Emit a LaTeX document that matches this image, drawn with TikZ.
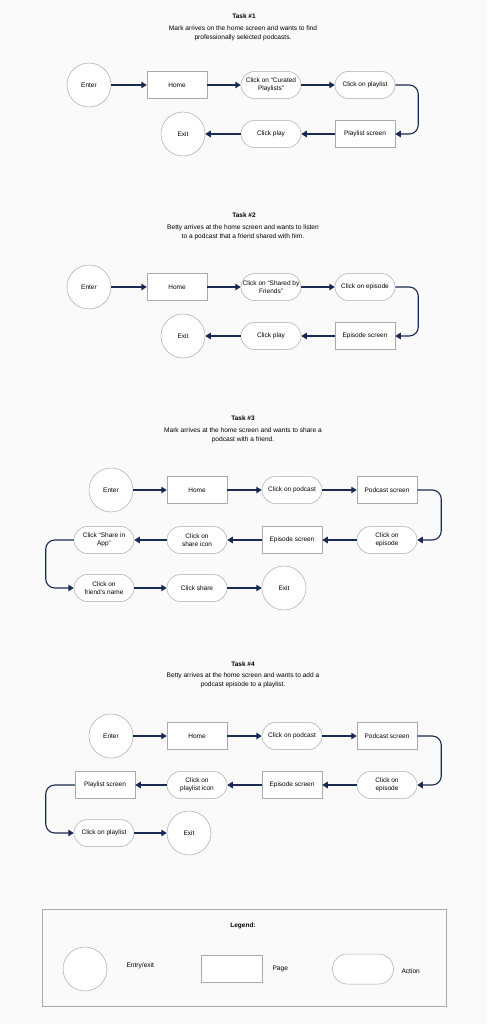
\documentclass[tikz,border=0pt]{standalone}
\usepackage{fontspec}
\setmainfont{Liberation Sans}
\usepackage{xcolor}
\usepackage{tikz}
\usetikzlibrary{arrows.meta}
\definecolor{navy}{HTML}{1B2A52}
\definecolor{edge}{HTML}{AAAAAA}
\definecolor{paper}{HTML}{FAFAFA}

\begin{document}
\begin{tikzpicture}[x=1pt,y=-1pt,
endbox/.style={circle,draw=edge,line width=0.5pt,minimum size=44pt,inner sep=0pt,font=\fontsize{6.5}{8.5}\selectfont,fill=white},
pagebox/.style={rectangle,draw=edge,line width=0.5pt,minimum width=60pt,minimum height=27pt,inner sep=1pt,align=center,font=\fontsize{6.5}{8.5}\selectfont,fill=white},
actbox/.style={pagebox,rounded corners=13.5pt},
flow/.style={draw=navy,line width=1.1pt,-{Triangle[length=5.5pt,width=6.5pt]}},
ttl/.style={font=\bfseries\fontsize{6.5}{8}\selectfont},
txt/.style={align=center,font=\fontsize{6.6}{9}\selectfont}]
\fill[paper](0,0)rectangle(487,1024);
\useasboundingbox(0,0)rectangle(487,1024);
% task 1
\node[ttl](t1)at(244,16){Task \#1};
\node[txt](t1t)at(243,33){Mark arrives on the home screen and wants to find\\professionally selected podcasts.};
\node[endbox](t1a)at(89,85){Enter};
\node[pagebox](t1b)at(177,85){Home};
\node[actbox](t1c)at(271,85){Click on “Curated\\Playlists”};
\node[actbox](t1d)at(365,85){Click on playlist};
\node[pagebox](t1e)at(365,134){Playlist screen};
\node[actbox](t1f)at(271,134){Click play};
\node[endbox](t1g)at(183,134){Exit};
\draw[flow](t1a)--(t1b);
\draw[flow](t1b)--(t1c);
\draw[flow](t1c)--(t1d);
\draw[flow,rounded corners=9pt](t1d.east)--++(23,0)|-(t1e.east);
\draw[flow](t1e)--(t1f);
\draw[flow](t1f)--(t1g);
% task 2
\node[ttl](t2)at(244,215){Task \#2};
\node[txt](t2t)at(243,232){Betty arrives at the home screen and wants to listen\\to a podcast that a friend shared with him.};
\node[endbox](t2a)at(89,287){Enter};
\node[pagebox](t2b)at(177,287){Home};
\node[actbox](t2c)at(271,287){Click on “Shared by\\Friends”};
\node[actbox](t2d)at(365,287){Click on episode};
\node[pagebox](t2e)at(365,336){Episode screen};
\node[actbox](t2f)at(271,336){Click play};
\node[endbox](t2g)at(183,336){Exit};
\draw[flow](t2a)--(t2b);
\draw[flow](t2b)--(t2c);
\draw[flow](t2c)--(t2d);
\draw[flow,rounded corners=9pt](t2d.east)--++(23,0)|-(t2e.east);
\draw[flow](t2e)--(t2f);
\draw[flow](t2f)--(t2g);
% task 3
\node[ttl](t3)at(243,418){Task \#3};
\node[txt](t3t)at(243,435){Mark arrives at the home screen and wants to share a\\podcast with a friend.};
\node[endbox](t3a)at(111,490){Enter};
\node[pagebox](t3b)at(197,490){Home};
\node[actbox](t3c)at(292,490){Click on podcast};
\node[pagebox](t3d)at(387,490){Podcast screen};
\node[actbox](t3e)at(387,540){Click on\\episode};
\node[pagebox](t3f)at(292,540){Episode screen};
\node[actbox](t3g)at(197,540){Click on\\share icon};
\node[actbox](t3h)at(104,540){Click “Share in\\App”};
\node[actbox](t3i)at(104,588){Click on\\friend’s name};
\node[actbox](t3j)at(197,588){Click share};
\node[endbox](t3k)at(284,588){Exit};
\draw[flow](t3a)--(t3b);
\draw[flow](t3b)--(t3c);
\draw[flow](t3c)--(t3d);
\draw[flow,rounded corners=9pt](t3d.east)--++(24,0)|-(t3e.east);
\draw[flow](t3e)--(t3f);
\draw[flow](t3f)--(t3g);
\draw[flow](t3g)--(t3h);
\draw[flow,rounded corners=9pt](t3h.west)--++(-28,0)|-(t3i.west);
\draw[flow](t3i)--(t3j);
\draw[flow](t3j)--(t3k);
% task 4
\node[ttl](t4)at(243,664){Task \#4};
\node[txt](t4t)at(243,680){Betty arrives at the home screen and wants to add a\\podcast episode to a playlist.};
\node[endbox](t4a)at(111,736){Enter};
\node[pagebox](t4b)at(197,736){Home};
\node[actbox](t4c)at(292,736){Click on podcast};
\node[pagebox](t4d)at(387,736){Podcast screen};
\node[actbox](t4e)at(387,785){Click on\\episode};
\node[pagebox](t4f)at(292,785){Episode screen};
\node[actbox](t4g)at(197,785){Click on\\playlist icon};
\node[pagebox](t4h)at(105,785){Playlist screen};
\node[actbox](t4i)at(104,833){Click on playlist};
\node[endbox](t4j)at(189,833){Exit};
\draw[flow](t4a)--(t4b);
\draw[flow](t4b)--(t4c);
\draw[flow](t4c)--(t4d);
\draw[flow,rounded corners=9pt](t4d.east)--++(24,0)|-(t4e.east);
\draw[flow](t4e)--(t4f);
\draw[flow](t4f)--(t4g);
\draw[flow](t4g)--(t4h);
\draw[flow,rounded corners=9pt](t4h.west)--++(-29,0)|-(t4i.west);
\draw[flow](t4i)--(t4j);
% legend
\draw[edge,line width=0.5pt,fill=paper](42,909)rectangle(446,1006);
\node[ttl](lg)at(243,926){Legend:};
\node[endbox](lga)at(85,969){};
\node[txt,anchor=west](lgat)at(123,966){Entry/exit};
\node[pagebox,minimum width=61pt](lgb)at(232,969){};
\node[txt,anchor=west](lgbt)at(269,969){Page};
\node[actbox,minimum width=61pt,minimum height=30pt,rounded corners=15pt](lgc)at(363,969){};
\node[txt,anchor=west](lgct)at(398,971){Action};
\end{tikzpicture}
\end{document}
